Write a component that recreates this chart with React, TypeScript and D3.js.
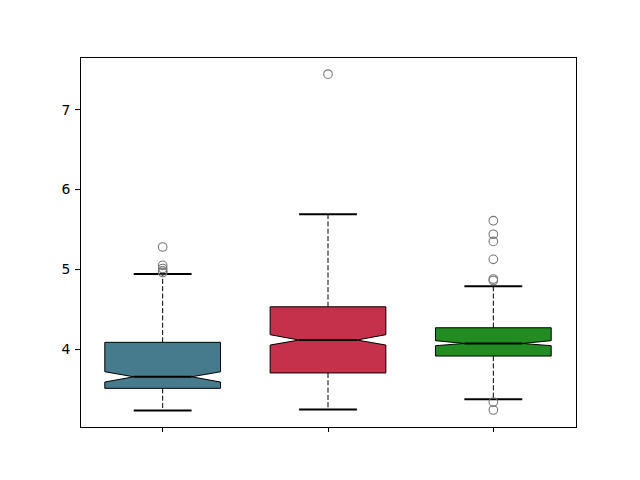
import React from "react";
import * as d3 from "d3";

const categories = ["A", "B", "C"];
const positions = [1, 2, 3];
const whiskerLow = [3.23, 3.243, 3.369];
const q1 = [3.507, 3.70, 3.912];
const notchLow = [3.586, 4.05, 4.042];
const median = [3.652, 4.113, 4.07];
const notchHigh = [3.715, 4.18, 4.105];
const q3 = [4.084, 4.53, 4.267];
const whiskerHigh = [4.94, 5.69, 4.787];
const outliers = [
  [5.28, 5.05, 5.01, 4.98, 4.96],
  [7.448],
  [5.61, 5.44, 5.35, 5.125, 4.878, 4.86, 3.335, 3.235],
];
const colors = ["#457b8c", "#c5314a", "#228b22"];
const yTicks = [4, 5, 6, 7];

const W = 640;
const H = 480;
const left = 80;
const right = 576;
const top = 57.6;
const bottom = 427.2;

export default function App() {
  const x = d3.scaleLinear().domain([0.5, 3.5]).range([left, right]);
  const y = d3.scaleLinear().domain([3.0195, 7.656]).range([bottom, top]);
  const boxW = 0.7;
  const capW = boxW * 0.5;
  const font = "'DejaVu Sans', sans-serif";

  return (
    <svg
      width={W}
      height={H}
      style={{ position: "absolute", left: 0, top: 0, background: "#fff" }}
    >
      <rect x={0} y={0} width={W} height={H} fill="#fff" />
      {categories.map((c, i) => {
        const p = positions[i];
        const bl = x(p - boxW / 2);
        const br = x(p + boxW / 2);
        const cl = x(p - capW / 2);
        const cr = x(p + capW / 2);
        const cx = x(p);
        const pts: [number, number][] = [
          [bl, y(q1[i])],
          [br, y(q1[i])],
          [br, y(notchLow[i])],
          [cr, y(median[i])],
          [br, y(notchHigh[i])],
          [br, y(q3[i])],
          [bl, y(q3[i])],
          [bl, y(notchHigh[i])],
          [cl, y(median[i])],
          [bl, y(notchLow[i])],
          [bl, y(q1[i])],
        ];
        const path = d3.line()(pts) + "Z";
        return (
          <g key={c}>
            <line x1={cx} x2={cx} y1={y(q1[i])} y2={y(whiskerLow[i])} stroke="#000" strokeWidth={1} strokeDasharray="5.1,2.2" />
            <line x1={cx} x2={cx} y1={y(q3[i])} y2={y(whiskerHigh[i])} stroke="#000" strokeWidth={1} strokeDasharray="5.1,2.2" />
            <path d={path} fill={colors[i]} stroke="#000" strokeWidth={1} strokeLinejoin="miter" />
            <line x1={cl} x2={cr} y1={y(median[i])} y2={y(median[i])} stroke="#000" strokeWidth={2} />
            <line x1={cl} x2={cr} y1={y(whiskerLow[i])} y2={y(whiskerLow[i])} stroke="#000" strokeWidth={2} />
            <line x1={cl} x2={cr} y1={y(whiskerHigh[i])} y2={y(whiskerHigh[i])} stroke="#000" strokeWidth={2} />
            {outliers[i].map((v, j) => (
              <circle key={j} cx={cx} cy={y(v)} r={4.3} fill="none" stroke="#777" strokeWidth={1.1} />
            ))}
          </g>
        );
      })}
      <rect x={left} y={top} width={right - left} height={bottom - top} fill="none" stroke="#000" strokeWidth={1} shapeRendering="crispEdges" />
      {positions.map((p) => (
        <line key={p} x1={x(p)} x2={x(p)} y1={bottom} y2={bottom + 4.86} stroke="#000" strokeWidth={1} shapeRendering="crispEdges" />
      ))}
      {yTicks.map((t) => (
        <g key={t}>
          <line x1={left - 4.86} x2={left} y1={y(t)} y2={y(t)} stroke="#000" strokeWidth={1} shapeRendering="crispEdges" />
          <text x={left - 9.7} y={y(t)} dy="0.35em" textAnchor="end" fontFamily={font} fontSize={13.9} fill="#000">
            {t}
          </text>
        </g>
      ))}
    </svg>
  );
}
